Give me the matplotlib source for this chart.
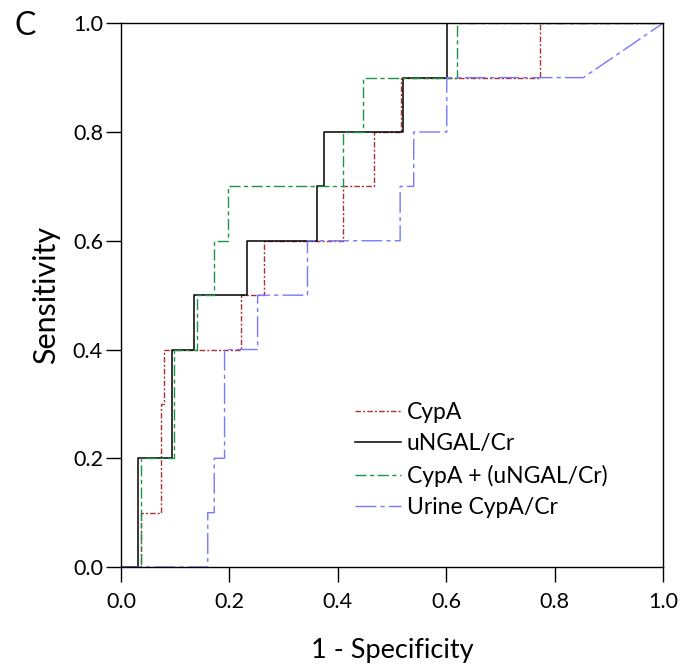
import matplotlib
matplotlib.use("Agg")
import matplotlib.pyplot as plt

plt.rcParams["font.family"] = ["Lato", "DejaVu Sans"]

# ROC curve vertices (1 - specificity, sensitivity)
cypa_x = [0, 0.036, 0.036, 0.074, 0.074, 0.079, 0.079, 0.221, 0.221, 0.264, 0.264,
          0.41, 0.41, 0.4665, 0.4665, 0.516, 0.516, 0.7735, 0.7735, 1.0]
cypa_y = [0, 0, 0.1, 0.1, 0.3, 0.3, 0.4, 0.4, 0.5, 0.5, 0.6,
          0.6, 0.7, 0.7, 0.8, 0.8, 0.9, 0.9, 1.0, 1.0]

ngal_x = [0, 0.031, 0.031, 0.0935, 0.0935, 0.135, 0.135, 0.233, 0.233, 0.361, 0.361,
          0.374, 0.374, 0.521, 0.521, 0.601, 0.601, 1.0]
ngal_y = [0, 0, 0.2, 0.2, 0.4, 0.4, 0.5, 0.5, 0.6, 0.6, 0.7,
          0.7, 0.8, 0.8, 0.9, 0.9, 1.0, 1.0]

combo_x = [0, 0.036, 0.036, 0.098, 0.098, 0.141, 0.141, 0.172, 0.172, 0.198, 0.198,
           0.41, 0.41, 0.447, 0.447, 0.62, 0.62, 1.0]
combo_y = [0, 0, 0.2, 0.2, 0.4, 0.4, 0.5, 0.5, 0.6, 0.6, 0.7,
           0.7, 0.8, 0.8, 0.9, 0.9, 1.0, 1.0]

urine_x = [0, 0.16, 0.16, 0.172, 0.172, 0.191, 0.191, 0.252, 0.252, 0.344, 0.344,
           0.515, 0.515, 0.54, 0.54, 0.601, 0.601, 0.853, 1.0]
urine_y = [0, 0, 0.1, 0.1, 0.2, 0.2, 0.4, 0.4, 0.5, 0.5, 0.6,
           0.6, 0.7, 0.7, 0.8, 0.8, 0.9, 0.9, 1.0]

labels = ["CypA", "uNGAL/Cr", "CypA + (uNGAL/Cr)", "Urine CypA/Cr"]
ticks = [0.0, 0.2, 0.4, 0.6, 0.8, 1.0]

fig = plt.figure(figsize=(6.8, 6.64), dpi=100)
ax = fig.add_axes([0.178, 0.146, 0.797, 0.819])

ax.plot(cypa_x, cypa_y, color="#a83232", lw=1.0, dashes=(4, 1.5, 1.5, 1.5), label=labels[0])
ax.plot(ngal_x, ngal_y, color="black", lw=1.1, label=labels[1])
ax.plot(combo_x, combo_y, color="#1e9448", lw=1.0, dashes=(8, 2.5, 3, 2.5), label=labels[2])
ax.plot(urine_x, urine_y, color="#7878ff", lw=1.0, dashes=(15, 3, 3, 3), label=labels[3])

ax.set_xlim(0, 1)
ax.set_ylim(0, 1)
ax.set_xticks(ticks)
ax.set_yticks(ticks)
ax.set_xticklabels([f"{t:.1f}" for t in ticks])
ax.set_yticklabels([f"{t:.1f}" for t in ticks])
ax.tick_params(direction="out", length=11, width=1, labelsize=15.5)
ax.tick_params(axis="x", pad=7)
ax.tick_params(axis="y", pad=2)
for s in ax.spines.values():
    s.set_linewidth(1)

ax.set_xlabel("1 - Specificity", fontsize=19.5, labelpad=19)
ax.set_ylabel("Sensitivity", fontsize=22, labelpad=9)

ax.legend(loc="lower left", bbox_to_anchor=(0.411, 0.069), frameon=False, fontsize=16.5,
          handlelength=2.0, handletextpad=0.25, labelspacing=0.45, borderpad=0)

fig.text(0.022, 0.948, "C", fontsize=23)

plt.savefig("out.png", dpi=100)
